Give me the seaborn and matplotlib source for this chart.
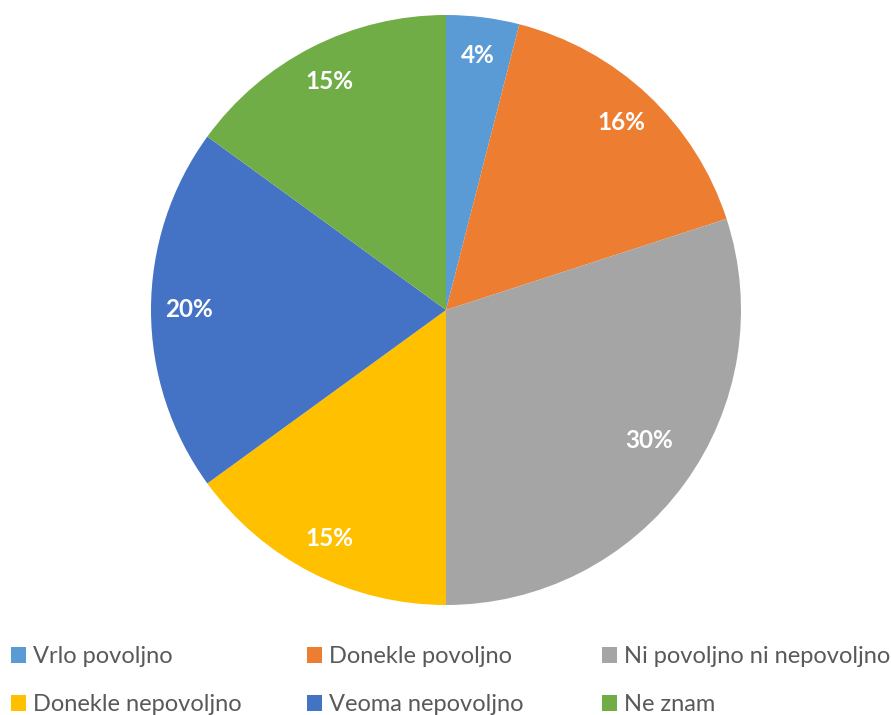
import matplotlib
matplotlib.use("Agg")
import matplotlib.pyplot as plt
from matplotlib.patches import Patch
import seaborn as sns
import numpy as np

sns.set_theme(style="white")
plt.rcParams["font.family"] = ["Lato", "DejaVu Sans"]

categories = ["Vrlo povoljno", "Donekle povoljno", "Ni povoljno ni nepovoljno",
              "Donekle nepovoljno", "Veoma nepovoljno", "Ne znam"]
shares = [4, 16, 30, 15, 20, 15]
colors = ["#5B9BD5", "#ED7D31", "#A5A5A5", "#FFC000", "#4472C4", "#70AD47"]

fig = plt.figure(figsize=(8.91, 7.15), dpi=100)
ax = fig.add_axes([151 / 891, 1 - 605 / 715, 590 / 891, 590 / 715])

wedges, texts, autotexts = ax.pie(
    shares, colors=colors, startangle=90, counterclock=False,
    autopct=lambda p: f"{p:.0f}%", pctdistance=0.87,
    wedgeprops=dict(linewidth=0),
    textprops=dict(color="white", fontsize=17.5, fontweight="bold"),
)
# the large grey slice carries its label a little further in and higher up
theta = np.deg2rad((wedges[2].theta1 + wedges[2].theta2) / 2 + 3.3)
autotexts[2].set_position((0.82 * np.cos(theta), 0.82 * np.sin(theta)))
ax.set_aspect("equal")
ax.set_xlim(-1, 1)
ax.set_ylim(-1, 1)
ax.axis("off")

# legend: three columns of two rows, each column its own legend box
columns = [(0, 3), (1, 4), (2, 5)]
col_x = [11, 307, 602]
for (i, j), x in zip(columns, col_x):
    fig.legend(
        [Patch(facecolor=colors[k], edgecolor="none") for k in (i, j)],
        [categories[k] for k in (i, j)],
        loc="upper left", bbox_to_anchor=(x / 891, 1 - 646 / 715),
        frameon=False, fontsize=17, handlelength=0.64, handleheight=0.64,
        handletextpad=0.3, labelspacing=1.15, borderaxespad=0, borderpad=0,
        labelcolor="#595959",
    )

fig.savefig("out.png", dpi=100, facecolor="white")
